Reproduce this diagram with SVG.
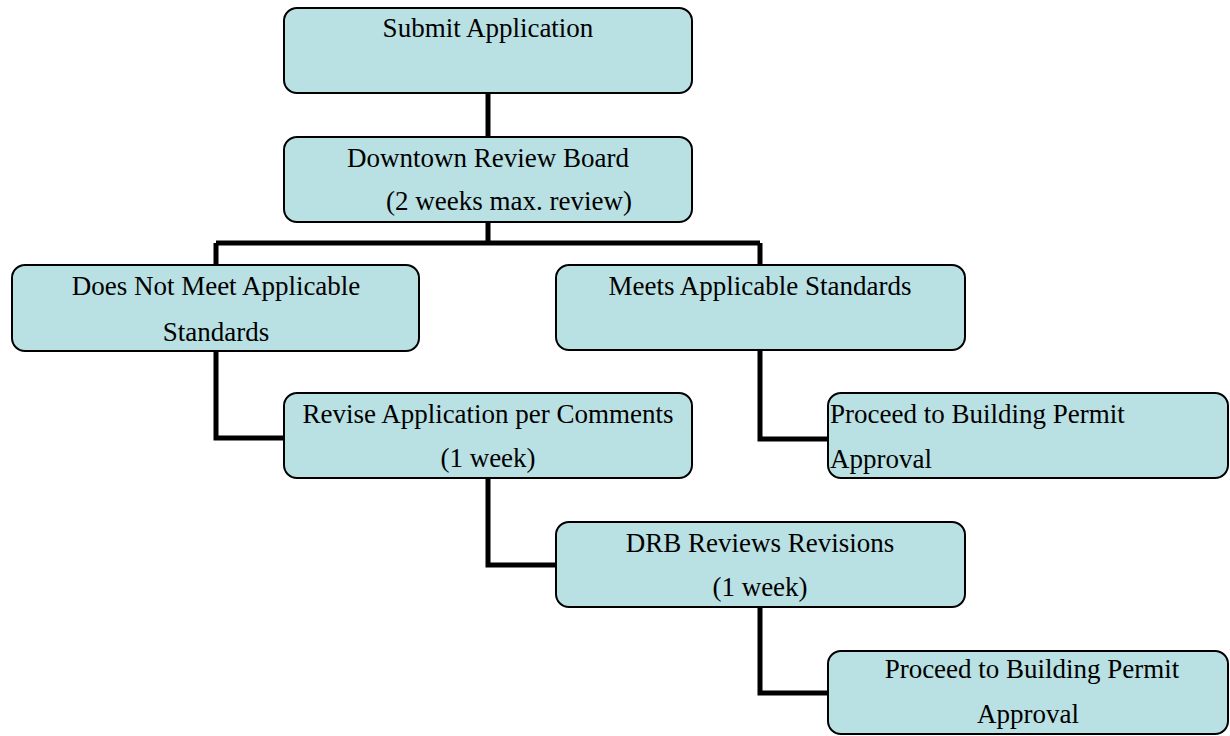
<svg xmlns="http://www.w3.org/2000/svg" width="1230" height="736" viewBox="0 0 1230 736">
<style>
.box{fill:#b9e0e3;stroke:#000;stroke-width:2}
.t{font-family:"Liberation Serif","Times New Roman",serif;font-size:27px;fill:#000}
.c{text-anchor:middle}
.con{fill:none;stroke:#000;stroke-width:5;stroke-linejoin:miter}
</style>
<rect width="1230" height="736" fill="#fff"/>
<g id="connectors">
<path class="con" d="M488,93 V137"/>
<path class="con" d="M488,222 V243 M216,243 H760 M216,243 V265 M760,243 V265"/>
<path class="con" d="M216,351 V438 H284"/>
<path class="con" d="M760,350 V439 H828"/>
<path class="con" d="M488,478 V565 H556"/>
<path class="con" d="M760,607 V693 H828"/>
</g>
<g id="submit">
<rect class="box" x="284" y="8" width="408" height="85" rx="13"/>
<text class="t c" x="488" y="37">Submit Application</text>
</g>
<g id="drb">
<rect class="box" x="284" y="137" width="408" height="85" rx="13"/>
<text class="t c" x="488" y="167">Downtown Review Board</text>
<text class="t" x="386" y="210">(2 weeks max. review)</text>
</g>
<g id="notmeet">
<rect class="box" x="12" y="265" width="407" height="86" rx="13"/>
<text class="t c" x="216" y="295">Does Not Meet Applicable</text>
<text class="t c" x="216" y="341">Standards</text>
</g>
<g id="meets">
<rect class="box" x="556" y="265" width="409" height="85" rx="13"/>
<text class="t c" x="760" y="295">Meets Applicable Standards</text>
</g>
<g id="revise">
<rect class="box" x="284" y="393" width="408" height="85" rx="13"/>
<text class="t c" x="488" y="423">Revise Application per Comments</text>
<text class="t c" x="488" y="467">(1 week)</text>
</g>
<g id="proceed1">
<rect class="box" x="828" y="393" width="400" height="85" rx="13"/>
<text class="t" x="830" y="423">Proceed to Building Permit</text>
<text class="t" x="830" y="468">Approval</text>
</g>
<g id="drbrev">
<rect class="box" x="556" y="522" width="409" height="85" rx="13"/>
<text class="t c" x="760" y="552">DRB Reviews Revisions</text>
<text class="t c" x="760" y="596">(1 week)</text>
</g>
<g id="proceed2">
<rect class="box" x="828" y="651" width="400" height="83" rx="13"/>
<text class="t c" x="1032" y="678">Proceed to Building Permit</text>
<text class="t c" x="1028" y="723">Approval</text>
</g>
</svg>
